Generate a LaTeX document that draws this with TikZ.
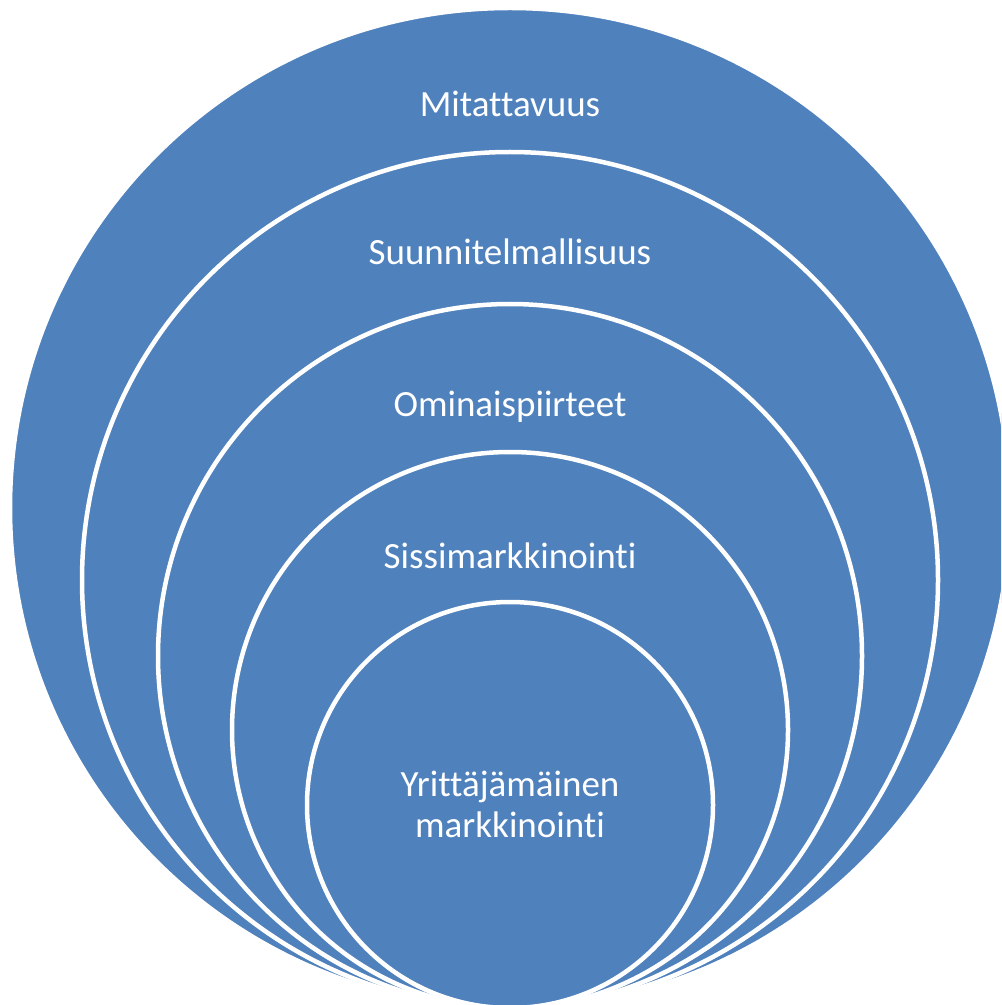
\documentclass[tikz,border=0pt]{standalone}
\usepackage{fontspec}
\setmainfont{Carlito}[RawFeature={-liga;-clig;-calt;-dlig}]
\usepackage{tikz}
\usetikzlibrary{positioning}

\definecolor{ringblue}{HTML}{4F81BD}

\tikzset{
  ring/.style={circle,draw=white,line width=2.25pt,fill=ringblue,inner sep=0pt},
  lbl/.style={text=white,font=\fontsize{18.5}{20.5}\selectfont,align=center,inner sep=0pt}
}

\begin{document}
\begin{tikzpicture}[x=0.5pt,y=-0.5pt]
    \useasboundingbox (0,0) rectangle (1001,1005);
    \clip (0,0) rectangle (1001,1005);

    % nested rings, all touching at the bottom
    \node[ring,minimum size=500pt] (mitat) at (510,508) {};
    \node[ring,minimum size=428pt] (suunn) at (510,580) {};
    \node[ring,minimum size=352pt] (omin) at (510,656) {};
    \node[ring,minimum size=278pt] (sissi) at (510,730) {};
    \node[ring,minimum size=203pt] (yritt) at (510,805) {};

    \node[lbl,anchor=base] (tmitat) at (510,117) {Mitattavuus};
    \node[lbl,anchor=base] (tsuunn) at (510,265) {Suunnitelmallisuus};
    \node[lbl,anchor=base] (tomin) at (510,416) {Ominaispiirteet};
    \node[lbl,anchor=base] (tsissi) at (510,568) {Sissimarkkinointi};
    \node[lbl] (tyritt) at (510,804) {Yrittäjämäinen\\markkinointi};
\end{tikzpicture}
\end{document}
